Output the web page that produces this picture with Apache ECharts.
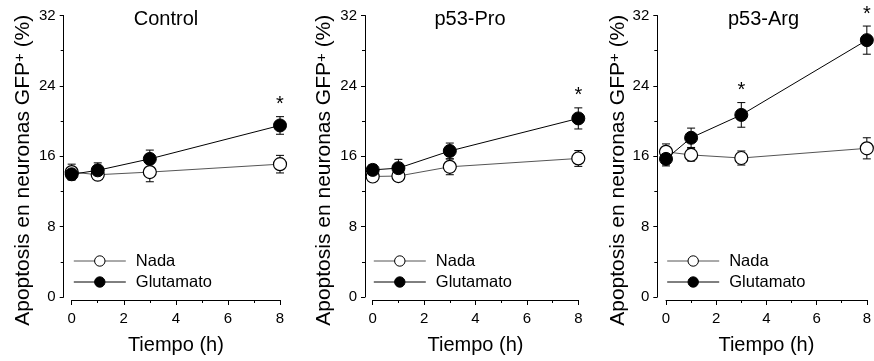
<!DOCTYPE html>
<html><head><meta charset="utf-8">
<script src="https://cdn.jsdelivr.net/npm/echarts@6/dist/echarts.min.js"></script>
<style>html,body{margin:0;padding:0;background:#fff}#c{width:874px;height:361px}</style>
</head><body><div id="c"></div>
<script>
// ---- data ----
const times = [0, 1, 3, 8];
const panelTitles = ['Control', 'p53-Pro', 'p53-Arg'];
const seriesNames = ['Nada', 'Glutamato'];
const xAxisTitle = 'Tiempo (h)';

const nadaControl = [14.2, 13.9, 14.2, 15.1];
const nadaControlErr = [0.9, 0.5, 1.1, 1.0];
const glutControl = [13.95, 14.4, 15.7, 19.5];
const glutControlErr = [0.6, 0.85, 1.0, 1.0];
const sigControl = [0, 0, 0, 1];

const nadaPro = [13.7, 13.75, 14.8, 15.75];
const nadaProErr = [0.5, 0.6, 0.9, 0.9];
const glutPro = [14.45, 14.65, 16.6, 20.3];
const glutProErr = [0.6, 1.0, 0.9, 1.2];
const sigPro = [0, 0, 0, 1];

const nadaArg = [16.5, 16.15, 15.8, 16.9];
const nadaArgErr = [0.9, 0.7, 0.8, 1.2];
const glutArg = [15.7, 18.1, 20.7, 29.2];
const glutArgErr = [0.8, 1.1, 1.4, 1.6];
const sigArg = [0, 0, 1, 1];

// ---- layout ----
const FONT = 'Liberation Sans, Arial, Helvetica, sans-serif';
const panels = [
  {title: panelTitles[0], nada: nadaControl, nadaErr: nadaControlErr, glut: glutControl, glutErr: glutControlErr, sig: sigControl,
   left: 71.7, width: 208.3, yOff: 8, titleX: 166, legendX: 73.3, nameGap: 30},
  {title: panelTitles[1], nada: nadaPro, nadaErr: nadaProErr, glut: glutPro, glutErr: glutProErr, sig: sigPro,
   left: 372.7, width: 205.6, yOff: 7.7, titleX: 470, legendX: 373.3, nameGap: 30},
  {title: panelTitles[2], nada: nadaArg, nadaErr: nadaArgErr, glut: glutArg, glutErr: glutArgErr, sig: sigArg,
   left: 666, width: 204.7, yOff: 8.7, titleX: 763.5, legendX: 666.7, nameGap: 24}
];
const gridTop = 15.5, gridHeight = 281.5;

const grid = [], xAxis = [], yAxis = [], series = [], legend = [], graphicEls = [];

function errRender(params, api) {
  const x = api.value(0), m = api.value(1), e = api.value(2);
  const top = api.coord([x, m + e]);
  const bot = api.coord([x, m - e]);
  const hw = 4;
  const st = {stroke: '#000', lineWidth: 1};
  return {type: 'group', children: [
    {type: 'line', shape: {x1: top[0], y1: top[1], x2: bot[0], y2: bot[1]}, style: st},
    {type: 'line', shape: {x1: top[0] - hw, y1: top[1], x2: top[0] + hw, y2: top[1]}, style: st},
    {type: 'line', shape: {x1: bot[0] - hw, y1: bot[1], x2: bot[0] + hw, y2: bot[1]}, style: st}
  ]};
}
function starRender(params, api) {
  const p = api.coord([api.value(0), api.value(1)]);
  return {type: 'text', x: p[0], y: p[1] - 12, style: {text: '*', fill: '#000', font: '20px ' + FONT, align: 'center', verticalAlign: 'middle'}};
}

panels.forEach((p, i) => {
  grid.push({left: p.left, top: gridTop, width: p.width, height: gridHeight, containLabel: false});
  xAxis.push({
    gridIndex: i, type: 'value', min: 0, max: 8, interval: 2, offset: 3,
    axisLine: {show: true, onZero: false, lineStyle: {color: '#000', width: 1}},
    axisTick: {show: true, length: 5, lineStyle: {color: '#000', width: 1}},
    minorTick: {show: true, splitNumber: 2, length: 3, lineStyle: {color: '#000', width: 1}},
    splitLine: {show: false}, minorSplitLine: {show: false},
    axisLabel: {show: true, fontSize: 15, color: '#000', margin: 11, fontFamily: FONT},
    name: xAxisTitle, nameLocation: 'middle', nameGap: 35,
    nameTextStyle: {fontSize: 20, color: '#000', fontFamily: FONT}
  });
  yAxis.push({
    gridIndex: i, type: 'value', min: 0, max: 32, interval: 8, offset: p.yOff,
    axisLine: {show: true, onZero: false, lineStyle: {color: '#000', width: 1}},
    axisTick: {show: true, length: 4, lineStyle: {color: '#000', width: 1}},
    minorTick: {show: true, splitNumber: 2, length: 3, lineStyle: {color: '#000', width: 1}},
    splitLine: {show: false}, minorSplitLine: {show: false},
    axisLabel: {show: true, fontSize: 15, color: '#000', margin: 8, fontFamily: FONT},
    name: 'Apoptosis en neuronas GFP{s|+} (%)', nameLocation: 'middle', nameGap: p.nameGap,
    nameTextStyle: {fontSize: 21, color: '#000', fontFamily: FONT, padding: [0, 28, 0, 0],
      rich: {s: {fontSize: 15, fontFamily: FONT, color: '#000', verticalAlign: 'top'}}}
  });
  series.push({
    type: 'custom', name: 'errN' + i, xAxisIndex: i, yAxisIndex: i, z: 1, silent: true,
    data: times.map((t, k) => [t, p.nada[k], p.nadaErr[k]]), encode: {x: 0, y: 1}, renderItem: errRender
  });
  series.push({
    type: 'custom', name: 'errG' + i, xAxisIndex: i, yAxisIndex: i, z: 1, silent: true,
    data: times.map((t, k) => [t, p.glut[k], p.glutErr[k]]), encode: {x: 0, y: 1}, renderItem: errRender
  });
  series.push({
    type: 'line', name: seriesNames[0], xAxisIndex: i, yAxisIndex: i, z: 3,
    data: times.map((t, k) => [t, p.nada[k]]),
    symbol: 'circle', symbolSize: 13, showAllSymbol: true,
    lineStyle: {color: '#555', width: 1},
    itemStyle: {color: '#fff', borderColor: '#000', borderWidth: 1.2}
  });
  series.push({
    type: 'line', name: seriesNames[1], xAxisIndex: i, yAxisIndex: i, z: 4,
    data: times.map((t, k) => [t, p.glut[k]]),
    symbol: 'circle', symbolSize: 13, showAllSymbol: true,
    lineStyle: {color: '#000', width: 1},
    itemStyle: {color: '#000', borderColor: '#000', borderWidth: 1}
  });
  series.push({
    type: 'custom', name: 'sig' + i, xAxisIndex: i, yAxisIndex: i, z: 5, silent: true,
    data: times.map((t, k) => [t, p.glut[k] + p.glutErr[k], p.sig[k]]).filter(d => d[2] === 1),
    encode: {x: 0, y: 1}, renderItem: starRender
  });
  legend.push({
    orient: 'vertical', left: p.legendX, top: 252.5, padding: 0,
    itemWidth: 52, itemHeight: 13, itemGap: 4,
    data: seriesNames, selectedMode: false,
    lineStyle: {width: 1},
    itemStyle: {borderWidth: 1},
    textStyle: {fontSize: 16.5, color: '#000', fontFamily: FONT, padding: [0, 0, 0, 5]}
  });
  graphicEls.push({
    type: 'text', x: p.titleX, y: 19,
    style: {text: p.title, fill: '#000', font: '20px ' + FONT, align: 'center', verticalAlign: 'middle'}
  });
});

const chart = echarts.init(document.getElementById('c'), null, {renderer: 'canvas'});
chart.setOption({
  animation: false,
  backgroundColor: '#fff',
  textStyle: {fontFamily: FONT},
  grid, xAxis, yAxis, series, legend,
  graphic: graphicEls,
  tooltip: {show: false}
});
</script>
</body></html>
